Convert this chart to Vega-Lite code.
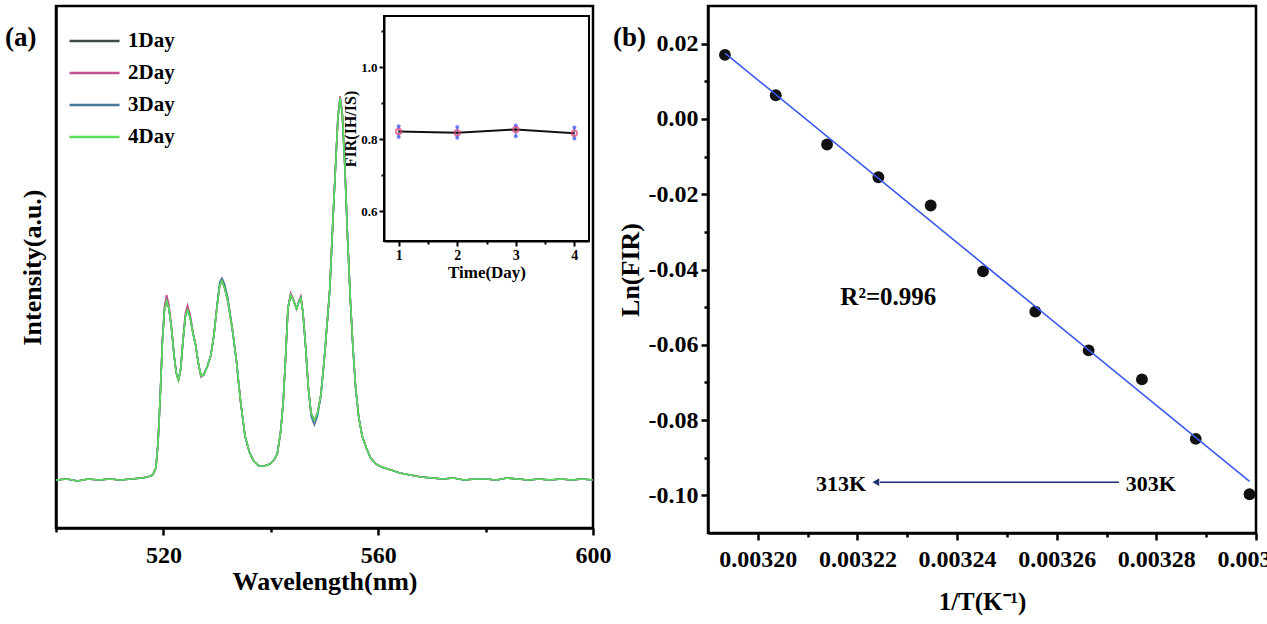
{
  "$schema": "https://vega.github.io/schema/vega-lite/v6.json",
  "background": "white",
  "padding": {"left": 3, "top": 4, "right": 0, "bottom": 0},
  "spacing": -2,
  "hconcat": [
    {
      "width": 537,
      "height": 522,
      "title": {"text": "(a)", "orient": "top", "anchor": "start", "frame": "bounds", "offset": 0, "dx": -14, "dy": 59, "baseline": "middle", "fontSize": 27, "fontWeight": "bold", "font": "Liberation Serif", "color": "black"},
      "layer": [
        {
          "data": {"values": [
            {"w": 500, "1Day": 48, "2Day": 48, "3Day": 48, "4Day": 48},
            {"w": 502, "1Day": 49, "2Day": 49, "3Day": 49, "4Day": 49},
            {"w": 504, "1Day": 47, "2Day": 47, "3Day": 47, "4Day": 47},
            {"w": 506, "1Day": 49, "2Day": 49, "3Day": 49, "4Day": 49},
            {"w": 508, "1Day": 48, "2Day": 48, "3Day": 48, "4Day": 48},
            {"w": 510, "1Day": 49, "2Day": 49, "3Day": 49, "4Day": 49},
            {"w": 512, "1Day": 48, "2Day": 48, "3Day": 48, "4Day": 48},
            {"w": 514, "1Day": 49, "2Day": 49, "3Day": 49, "4Day": 49},
            {"w": 516, "1Day": 50, "2Day": 50, "3Day": 50, "4Day": 50},
            {"w": 517, "1Day": 51, "2Day": 51, "3Day": 51, "4Day": 51},
            {"w": 518, "1Day": 53, "2Day": 53, "3Day": 53, "4Day": 53},
            {"w": 518.6, "1Day": 60, "2Day": 60, "3Day": 60, "4Day": 60},
            {"w": 519, "1Day": 85, "2Day": 85, "3Day": 85, "4Day": 85},
            {"w": 519.4, "1Day": 130, "2Day": 131, "3Day": 130, "4Day": 130},
            {"w": 519.8, "1Day": 185, "2Day": 188, "3Day": 185, "4Day": 185},
            {"w": 520.2, "1Day": 218, "2Day": 222, "3Day": 218, "4Day": 218},
            {"w": 520.6, "1Day": 227, "2Day": 233, "3Day": 227, "4Day": 227},
            {"w": 521, "1Day": 220, "2Day": 224, "3Day": 220, "4Day": 220},
            {"w": 521.5, "1Day": 200, "2Day": 202, "3Day": 200, "4Day": 200},
            {"w": 522, "1Day": 172, "2Day": 172, "3Day": 172, "4Day": 172},
            {"w": 522.4, "1Day": 155, "2Day": 155, "3Day": 155, "4Day": 155},
            {"w": 522.8, "1Day": 148, "2Day": 148, "3Day": 148, "4Day": 148},
            {"w": 523.2, "1Day": 158, "2Day": 158, "3Day": 158, "4Day": 158},
            {"w": 523.7, "1Day": 190, "2Day": 192, "3Day": 190, "4Day": 190},
            {"w": 524.1, "1Day": 212, "2Day": 215, "3Day": 212, "4Day": 212},
            {"w": 524.5, "1Day": 218, "2Day": 223, "3Day": 218, "4Day": 218},
            {"w": 525, "1Day": 210, "2Day": 213, "3Day": 210, "4Day": 210},
            {"w": 525.5, "1Day": 195, "2Day": 196, "3Day": 195, "4Day": 195},
            {"w": 526, "1Day": 183, "2Day": 183, "3Day": 183, "4Day": 183},
            {"w": 526.5, "1Day": 165, "2Day": 165, "3Day": 165, "4Day": 165},
            {"w": 527, "1Day": 152, "2Day": 151, "3Day": 152, "4Day": 152},
            {"w": 527.5, "1Day": 153, "2Day": 153, "3Day": 153, "4Day": 153},
            {"w": 528.2, "1Day": 162, "2Day": 162, "3Day": 162, "4Day": 162},
            {"w": 528.8, "1Day": 172, "2Day": 172, "3Day": 172, "4Day": 172},
            {"w": 529.4, "1Day": 192, "2Day": 192, "3Day": 193, "4Day": 192},
            {"w": 530, "1Day": 222, "2Day": 222, "3Day": 224, "4Day": 222},
            {"w": 530.5, "1Day": 243, "2Day": 243, "3Day": 246, "4Day": 243},
            {"w": 530.9, "1Day": 247, "2Day": 247, "3Day": 250, "4Day": 247},
            {"w": 531.4, "1Day": 240, "2Day": 240, "3Day": 244, "4Day": 240},
            {"w": 532, "1Day": 227, "2Day": 227, "3Day": 230, "4Day": 227},
            {"w": 532.8, "1Day": 200, "2Day": 200, "3Day": 201, "4Day": 200},
            {"w": 533.6, "1Day": 167, "2Day": 167, "3Day": 167, "4Day": 167},
            {"w": 534.4, "1Day": 125, "2Day": 125, "3Day": 125, "4Day": 125},
            {"w": 535.2, "1Day": 92, "2Day": 92, "3Day": 92, "4Day": 92},
            {"w": 536, "1Day": 76, "2Day": 76, "3Day": 76, "4Day": 76},
            {"w": 536.8, "1Day": 67, "2Day": 67, "3Day": 67, "4Day": 67},
            {"w": 537.8, "1Day": 62, "2Day": 62, "3Day": 62, "4Day": 62},
            {"w": 538.8, "1Day": 62, "2Day": 62, "3Day": 62, "4Day": 62},
            {"w": 539.8, "1Day": 64, "2Day": 64, "3Day": 64, "4Day": 64},
            {"w": 540.6, "1Day": 68, "2Day": 68, "3Day": 68, "4Day": 68},
            {"w": 541.2, "1Day": 74, "2Day": 74, "3Day": 74, "4Day": 74},
            {"w": 541.8, "1Day": 95, "2Day": 95, "3Day": 95, "4Day": 95},
            {"w": 542.3, "1Day": 125, "2Day": 125, "3Day": 125, "4Day": 125},
            {"w": 542.8, "1Day": 175, "2Day": 175, "3Day": 175, "4Day": 175},
            {"w": 543.2, "1Day": 220, "2Day": 221, "3Day": 220, "4Day": 220},
            {"w": 543.7, "1Day": 233, "2Day": 235, "3Day": 233, "4Day": 233},
            {"w": 544.2, "1Day": 228, "2Day": 229, "3Day": 228, "4Day": 228},
            {"w": 544.8, "1Day": 219, "2Day": 219, "3Day": 219, "4Day": 219},
            {"w": 545.2, "1Day": 226, "2Day": 227, "3Day": 226, "4Day": 226},
            {"w": 545.6, "1Day": 230, "2Day": 232, "3Day": 230, "4Day": 230},
            {"w": 546, "1Day": 215, "2Day": 215, "3Day": 215, "4Day": 215},
            {"w": 546.5, "1Day": 180, "2Day": 180, "3Day": 180, "4Day": 180},
            {"w": 547, "1Day": 140, "2Day": 140, "3Day": 139, "4Day": 140},
            {"w": 547.5, "1Day": 115, "2Day": 115, "3Day": 112, "4Day": 115},
            {"w": 548.1, "1Day": 108, "2Day": 108, "3Day": 103, "4Day": 108},
            {"w": 548.7, "1Day": 115, "2Day": 115, "3Day": 112, "4Day": 115},
            {"w": 549.3, "1Day": 132, "2Day": 132, "3Day": 131, "4Day": 132},
            {"w": 549.9, "1Day": 165, "2Day": 165, "3Day": 165, "4Day": 165},
            {"w": 550.5, "1Day": 205, "2Day": 205, "3Day": 205, "4Day": 205},
            {"w": 551, "1Day": 240, "2Day": 240, "3Day": 240, "4Day": 240},
            {"w": 551.5, "1Day": 300, "2Day": 300, "3Day": 300, "4Day": 300},
            {"w": 552, "1Day": 355, "2Day": 356, "3Day": 355, "4Day": 355},
            {"w": 552.5, "1Day": 410, "2Day": 412, "3Day": 410, "4Day": 410},
            {"w": 552.9, "1Day": 429, "2Day": 432, "3Day": 430, "4Day": 430},
            {"w": 553.3, "1Day": 415, "2Day": 417, "3Day": 415, "4Day": 415},
            {"w": 553.8, "1Day": 360, "2Day": 361, "3Day": 360, "4Day": 360},
            {"w": 554.3, "1Day": 290, "2Day": 290, "3Day": 290, "4Day": 290},
            {"w": 554.8, "1Day": 230, "2Day": 230, "3Day": 230, "4Day": 230},
            {"w": 555.3, "1Day": 180, "2Day": 180, "3Day": 180, "4Day": 180},
            {"w": 555.8, "1Day": 140, "2Day": 140, "3Day": 140, "4Day": 140},
            {"w": 556.4, "1Day": 110, "2Day": 110, "3Day": 110, "4Day": 110},
            {"w": 557, "1Day": 92, "2Day": 92, "3Day": 92, "4Day": 92},
            {"w": 557.8, "1Day": 80, "2Day": 80, "3Day": 80, "4Day": 80},
            {"w": 558.6, "1Day": 70, "2Day": 70, "3Day": 70, "4Day": 70},
            {"w": 559.6, "1Day": 64, "2Day": 64, "3Day": 64, "4Day": 64},
            {"w": 560.6, "1Day": 61, "2Day": 61, "3Day": 61, "4Day": 61},
            {"w": 561.8, "1Day": 59, "2Day": 59, "3Day": 59, "4Day": 59},
            {"w": 563, "1Day": 57, "2Day": 57, "3Day": 57, "4Day": 57},
            {"w": 564, "1Day": 55, "2Day": 55, "3Day": 55, "4Day": 55},
            {"w": 566, "1Day": 53, "2Day": 53, "3Day": 53, "4Day": 53},
            {"w": 568, "1Day": 51, "2Day": 51, "3Day": 51, "4Day": 51},
            {"w": 570, "1Day": 50, "2Day": 50, "3Day": 50, "4Day": 50},
            {"w": 572, "1Day": 49, "2Day": 49, "3Day": 49, "4Day": 49},
            {"w": 574, "1Day": 50, "2Day": 50, "3Day": 50, "4Day": 50},
            {"w": 576, "1Day": 48, "2Day": 48, "3Day": 48, "4Day": 48},
            {"w": 578, "1Day": 49, "2Day": 49, "3Day": 49, "4Day": 49},
            {"w": 580, "1Day": 49, "2Day": 49, "3Day": 49, "4Day": 49},
            {"w": 582, "1Day": 48, "2Day": 48, "3Day": 48, "4Day": 48},
            {"w": 584, "1Day": 50, "2Day": 50, "3Day": 50, "4Day": 50},
            {"w": 586, "1Day": 49, "2Day": 49, "3Day": 49, "4Day": 49},
            {"w": 588, "1Day": 48, "2Day": 48, "3Day": 48, "4Day": 48},
            {"w": 590, "1Day": 49, "2Day": 49, "3Day": 49, "4Day": 49},
            {"w": 592, "1Day": 48, "2Day": 48, "3Day": 48, "4Day": 48},
            {"w": 594, "1Day": 49, "2Day": 49, "3Day": 49, "4Day": 49},
            {"w": 596, "1Day": 48, "2Day": 48, "3Day": 48, "4Day": 48},
            {"w": 598, "1Day": 49, "2Day": 49, "3Day": 49, "4Day": 49},
            {"w": 600, "1Day": 48, "2Day": 48, "3Day": 48, "4Day": 48}
          ]},
          "transform": [{"fold": ["1Day", "2Day", "3Day", "4Day"], "as": ["day", "intensity"]}],
          "mark": {"type": "line", "strokeWidth": 1.6},
          "encoding": {
            "x": {"field": "w", "type": "quantitative", "scale": {"domain": [500, 600], "nice": false, "zero": false},
              "axis": {"values": [500, 520, 540, 560, 580, 600], "labelExpr": "(datum.value == 520 || datum.value == 560 || datum.value == 600) ? datum.label : ''",
                "tickSize": {"condition": {"test": "datum.value == 520 || datum.value == 560 || datum.value == 600", "value": 7}, "value": 4},
                "labelFontSize": 24, "labelPadding": 8, "title": "Wavelength(nm)", "titleFontSize": 26, "titlePadding": 1}},
            "y": {"field": "intensity", "type": "quantitative", "scale": {"domain": [0, 522], "nice": false, "zero": false},
              "axis": {"title": "Intensity(a.u.)", "labels": false, "ticks": false, "titleFontSize": 26, "titlePadding": 11}},
            "color": {"field": "day", "type": "nominal",
              "scale": {"domain": ["1Day", "2Day", "3Day", "4Day"], "range": ["#3f4a40", "#c0508e", "#4a7898", "#5ade5a"]},
              "legend": {"orient": "none", "legendX": 12, "legendY": 19, "title": null, "symbolType": "stroke", "symbolSize": 2500, "symbolStrokeWidth": 2.5, "clipHeight": 32, "rowPadding": 0, "labelFontSize": 21, "labelFont": "Liberation Serif", "labelFontWeight": "bold", "labelColor": "black", "labelOffset": 7, "padding": 0}}
          }
        },
        {
          "data": {"values": [
            {"day": 1, "fir": 0.821, "lo": 0.806, "hi": 0.836},
            {"day": 2, "fir": 0.818, "lo": 0.804, "hi": 0.834},
            {"day": 3, "fir": 0.827, "lo": 0.808, "hi": 0.838},
            {"day": 4, "fir": 0.816, "lo": 0.802, "hi": 0.832}
          ]},
          "encoding": {
            "x": {"field": "day", "type": "quantitative", "scale": {"domain": [0.75, 4.25], "range": [328, 533], "nice": false, "zero": false},
              "axis": {"orient": "bottom", "offset": -287, "values": [1, 1.5, 2, 2.5, 3, 3.5, 4], "labelExpr": "datum.value % 1 == 0 ? format(datum.value, 'd') : ''",
                "tickSize": {"condition": {"test": "datum.value % 1 != 0", "value": 3}, "value": 5}, "domainWidth": 2, "tickWidth": 2,
                "labelFontSize": 14, "labelPadding": 2, "title": "Time(Day)", "titleFontSize": 17, "titlePadding": 2}},
            "y": {"field": "fir", "type": "quantitative", "scale": {"domain": [0.517, 1.142], "range": [235, 10], "nice": false, "zero": false},
              "axis": {"orient": "left", "offset": -328, "values": [0.6, 0.7, 0.8, 0.9, 1.0, 1.1], "labelExpr": "round(datum.value * 10) % 2 == 0 ? format(datum.value, '.1f') : ''",
                "tickSize": {"condition": {"test": "round(datum.value * 10) % 2 != 0", "value": 3}, "value": 5}, "domainWidth": 2, "tickWidth": 2,
                "labelFontSize": 13, "labelPadding": 2, "title": "FIR(IH/IS)", "titleFontSize": 16, "titlePadding": 2}}
          },
          "layer": [
            {"mark": {"type": "rect", "fillOpacity": 0, "stroke": "black", "strokeWidth": 2},
             "encoding": {"x": {"datum": 0.75}, "x2": {"datum": 4.25}, "y": {"datum": 0.517}, "y2": {"datum": 1.142}}},
            {"mark": {"type": "rule", "color": "#8c92d0", "strokeWidth": 1.5},
             "encoding": {"y": {"field": "lo", "type": "quantitative"}, "y2": {"field": "hi"}}},
            {"mark": {"type": "line", "color": "#111111", "strokeWidth": 2}},
            {"mark": {"type": "point", "filled": true, "color": "#3350f5", "size": 16},
             "encoding": {"y": {"field": "lo", "type": "quantitative"}}},
            {"mark": {"type": "point", "filled": true, "color": "#3350f5", "size": 16},
             "encoding": {"y": {"field": "hi", "type": "quantitative"}}},
            {"mark": {"type": "point", "filled": false, "color": "#e0407a", "strokeWidth": 2, "size": 30}}
          ]
        }
      ],
      "resolve": {"scale": {"x": "independent", "y": "independent", "color": "independent"}}
    },
    {
      "width": 548,
      "height": 527,
      "title": {"text": "(b)", "orient": "top", "anchor": "start", "frame": "bounds", "offset": 0, "dx": -4, "dy": 59, "baseline": "middle", "fontSize": 27, "fontWeight": "bold", "font": "Liberation Serif", "color": "black"},
      "layer": [
        {
          "data": {"values": [
            {"inv_t": 0.0031934, "ln_fir": 0.0170},
            {"inv_t": 0.0032036, "ln_fir": 0.0063},
            {"inv_t": 0.0032139, "ln_fir": -0.0068},
            {"inv_t": 0.0032242, "ln_fir": -0.0155},
            {"inv_t": 0.0032347, "ln_fir": -0.0230},
            {"inv_t": 0.0032452, "ln_fir": -0.0405},
            {"inv_t": 0.0032557, "ln_fir": -0.0512},
            {"inv_t": 0.0032664, "ln_fir": -0.0615},
            {"inv_t": 0.0032771, "ln_fir": -0.0692},
            {"inv_t": 0.0032879, "ln_fir": -0.0850},
            {"inv_t": 0.0032987, "ln_fir": -0.0997}
          ]},
          "mark": {"type": "point", "filled": true, "shape": "circle", "color": "#111111", "size": 140, "opacity": 1},
          "encoding": {
            "x": {"field": "inv_t", "type": "quantitative", "scale": {"domain": [0.00319, 0.0033], "nice": false, "zero": false},
              "axis": {"values": [0.0032, 0.00321, 0.00322, 0.00323, 0.00324, 0.00325, 0.00326, 0.00327, 0.00328, 0.00329, 0.0033],
                "labelExpr": "round(datum.value * 100000) % 2 == 0 ? format(datum.value, '.5f') : ''",
                "tickSize": {"condition": {"test": "round(datum.value * 100000) % 2 != 0", "value": 4}, "value": 7},
                "labelFontSize": 24, "labelPadding": 7, "title": "1/T(K⁻¹)", "titleFontSize": 25, "titlePadding": 18}},
            "y": {"field": "ln_fir", "type": "quantitative", "scale": {"domain": [-0.11, 0.03], "nice": false, "zero": false},
              "axis": {"values": [-0.1, -0.09, -0.08, -0.07, -0.06, -0.05, -0.04, -0.03, -0.02, -0.01, 0, 0.01, 0.02],
                "labelExpr": "round(datum.value * 100) % 2 == 0 ? (datum.value < -0.0001 ? '-' : '') + format(abs(datum.value), '.2f') : ''",
                "tickSize": {"condition": {"test": "round(datum.value * 100) % 2 != 0", "value": 4}, "value": 7},
                "labelFontSize": 24, "labelPadding": 3, "title": "Ln(FIR)", "titleFontSize": 26, "titlePadding": 5}}
          }
        },
        {
          "data": {"values": [
            {"inv_t": 0.0031934, "ln_fir": 0.0175},
            {"inv_t": 0.0032987, "ln_fir": -0.0963}
          ]},
          "mark": {"type": "line", "color": "#3a58ee", "strokeWidth": 1.6},
          "encoding": {
            "x": {"field": "inv_t", "type": "quantitative"},
            "y": {"field": "ln_fir", "type": "quantitative"}
          }
        },
        {
          "data": {"values": [{"label": "arrow"}]},
          "mark": {"type": "rule", "color": "#1c2e6e", "strokeWidth": 1.5},
          "encoding": {"x": {"datum": 0.0032245, "type": "quantitative"}, "x2": {"datum": 0.0032725}, "y": {"datum": -0.0965, "type": "quantitative"}}
        },
        {
          "data": {"values": [{"label": "head"}]},
          "mark": {"type": "point", "shape": "triangle-left", "filled": true, "color": "#1c2e6e", "size": 60, "opacity": 1},
          "encoding": {"x": {"datum": 0.0032237, "type": "quantitative"}, "y": {"datum": -0.0965, "type": "quantitative"}}
        },
        {
          "data": {"values": [{"label": "313K"}]},
          "mark": {"type": "text", "fontSize": 22, "fontWeight": "bold", "font": "Liberation Serif", "color": "black", "baseline": "middle"},
          "encoding": {"x": {"datum": 0.0032167, "type": "quantitative"}, "y": {"datum": -0.097, "type": "quantitative"}, "text": {"field": "label"}}
        },
        {
          "data": {"values": [{"label": "303K"}]},
          "mark": {"type": "text", "fontSize": 22, "fontWeight": "bold", "font": "Liberation Serif", "color": "black", "baseline": "middle"},
          "encoding": {"x": {"datum": 0.0032789, "type": "quantitative"}, "y": {"datum": -0.097, "type": "quantitative"}, "text": {"field": "label"}}
        },
        {
          "data": {"values": [{"label": "R²=0.996"}]},
          "mark": {"type": "text", "fontSize": 25, "fontWeight": "bold", "font": "Liberation Serif", "color": "black", "baseline": "middle"},
          "encoding": {"x": {"datum": 0.0032262, "type": "quantitative"}, "y": {"datum": -0.0473, "type": "quantitative"}, "text": {"field": "label"}}
        }
      ]
    }
  ],
  "config": {
    "font": "Liberation Serif",
    "view": {"stroke": "black", "strokeWidth": 2.5},
    "axis": {"domainColor": "black", "domainWidth": 2.5, "tickColor": "black", "tickWidth": 2.5, "labelFont": "Liberation Serif", "labelFontWeight": "bold", "labelColor": "black", "titleFont": "Liberation Serif", "titleFontWeight": "bold", "titleColor": "black", "grid": false, "labelFlush": false, "labelOverlap": false}
  }
}
